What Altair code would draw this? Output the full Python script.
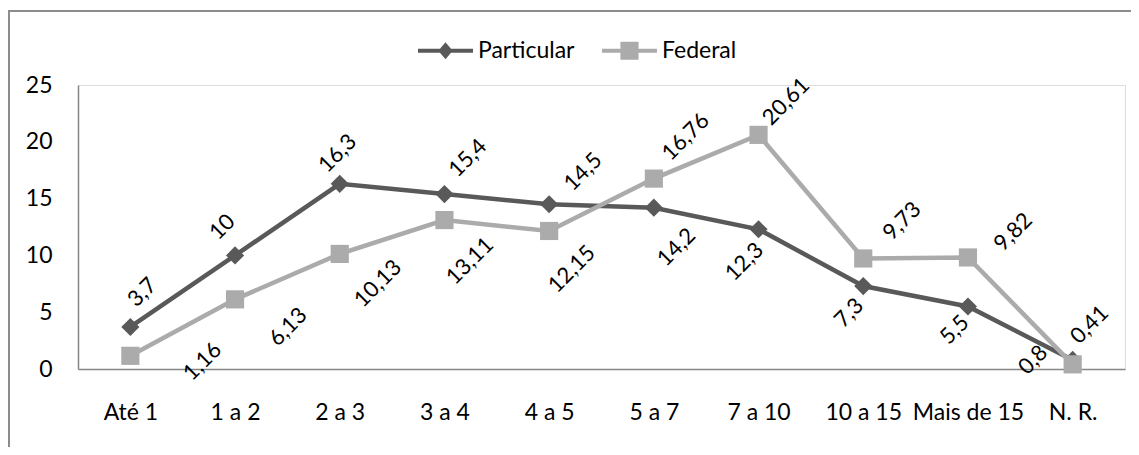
import altair as alt
import pandas as pd

# ---------------- data ----------------
categories = ["Até 1", "1 a 2", "2 a 3", "3 a 4", "4 a 5", "5 a 7",
              "7 a 10", "10 a 15", "Mais de 15", "N. R."]
particular = [3.7, 10, 16.3, 15.4, 14.5, 14.2, 12.3, 7.3, 5.5, 0.8]
federal = [1.16, 6.13, 10.13, 13.11, 12.15, 16.76, 20.61, 9.73, 9.82, 0.41]
series_names = ["Particular", "Federal"]
y_ticks = [0, 5, 10, 15, 20, 25]

# ---------------- styles ----------------
colors = {"Particular": "#595959", "Federal": "#ABABAB"}
shapes = {"Particular": "diamond", "Federal": "square"}
FONT = "Lato"
# label offsets (in the rotated text frame) per point
label_dx = {
    "Particular": [33, 11, 20, 42, 47, -12, -33, -29, -26, -28],
    "Federal": [47, 18, 6, -11, -11, 52, 43, 54, 50, 40],
}
label_dy = {
    "Particular": [-16, -29, -23, -9, 1, 44, 13, 9, 7, -28],
    "Federal": [55, 57, 48, 47, 43, -7, -4, 1, 14, -16],
}
# legend symbols: line with marker
leg_diamond = ("M-1,-0.07L-0.2,-0.07L0,-0.31L0.2,-0.07L1,-0.07L1,0.07"
               "L0.2,0.07L0,0.31L-0.2,0.07L-1,0.07Z")
leg_square = ("M-1,-0.07L-0.33,-0.07L-0.33,-0.33L0.33,-0.33L0.33,-0.07L1,-0.07"
              "L1,0.07L0.33,0.07L0.33,0.33L-0.33,0.33L-0.33,0.07L-1,0.07Z")

rows = []
for s, vals in zip(series_names, [particular, federal]):
    for i, (c, v) in enumerate(zip(categories, vals)):
        rows.append({"cat": c, "series": s, "value": v, "idx": i,
                     "label": f"{v:g}".replace(".", ",")})
df = pd.DataFrame(rows)

W, H = 1047, 284

x_enc = alt.X("cat:N", sort=categories,
              scale=alt.Scale(type="point", padding=0.5, domain=categories),
              axis=alt.Axis(title=None, labelAngle=0, labelFont=FONT, labelFontSize=23,
                            labelColor="black", ticks=False, tickSize=0, labelPadding=32,
                            domainColor="#868686", domainWidth=1.5, grid=False,
                            labelOverlap=False, labelBound=False))
y_enc = alt.Y("value:Q",
              scale=alt.Scale(domain=[0, 25], nice=False, zero=True),
              axis=alt.Axis(title=None, values=y_ticks, format="d", labelFont=FONT,
                            labelFontSize=23, labelColor="black", ticks=False, tickSize=0,
                            labelPadding=26, domainColor="#868686", domainWidth=1.5,
                            grid=False))

base = alt.Chart(df)

frame = alt.Chart(pd.DataFrame({"a": [0]})).mark_rect(
    fill=None, stroke="#8C8C8C", strokeWidth=2
).encode(x=alt.value(-69), x2=alt.value(1300), y=alt.value(-74), y2=alt.value(600))

layers = [frame]
for s in series_names:
    sub = base.transform_filter(alt.datum.series == s)
    layers.append(sub.mark_line(color=colors[s], strokeWidth=4.5).encode(x=x_enc, y=y_enc))
    layers.append(sub.mark_point(filled=True, opacity=1, color=colors[s], shape=shapes[s],
                                 size=330, strokeWidth=0).encode(x=x_enc, y=y_enc))

for s in series_names:
    for i in range(len(categories)):
        layers.append(
            base.transform_filter((alt.datum.series == s) & (alt.datum.idx == i))
            .mark_text(angle=315, align="center", baseline="middle",
                       dx=label_dx[s][i], dy=label_dy[s][i],
                       font=FONT, fontSize=22, color="black")
            .encode(x=x_enc, y=y_enc, text="label:N")
        )

leg_props = dict(title=None, orient="none", legendX=340, legendY=-62,
                 direction="horizontal", symbolSize=3025, symbolStrokeWidth=0,
                 symbolOpacity=1, labelFont=FONT, labelFontSize=23, labelColor="black",
                 columnPadding=27, labelOffset=5, padding=0)
legend_layer = base.mark_point(filled=True, opacity=0, size=1).encode(
    x=x_enc, y=y_enc,
    color=alt.Color("series:N",
                    scale=alt.Scale(domain=series_names,
                                    range=[colors[s] for s in series_names]),
                    legend=alt.Legend(**leg_props)),
    shape=alt.Shape("series:N",
                    scale=alt.Scale(domain=series_names, range=[leg_diamond, leg_square]),
                    legend=alt.Legend(**leg_props)),
)
layers.append(legend_layer)

chart = alt.layer(*layers).properties(
    width=W, height=H,
    autosize=alt.AutoSizeParams(type="none"),
    padding={"left": 70, "top": 77, "right": 6, "bottom": 78},
).configure_view(stroke=None).configure(background="white")

chart.save("out.html", embed_options={"renderer": "svg", "actions": False})
